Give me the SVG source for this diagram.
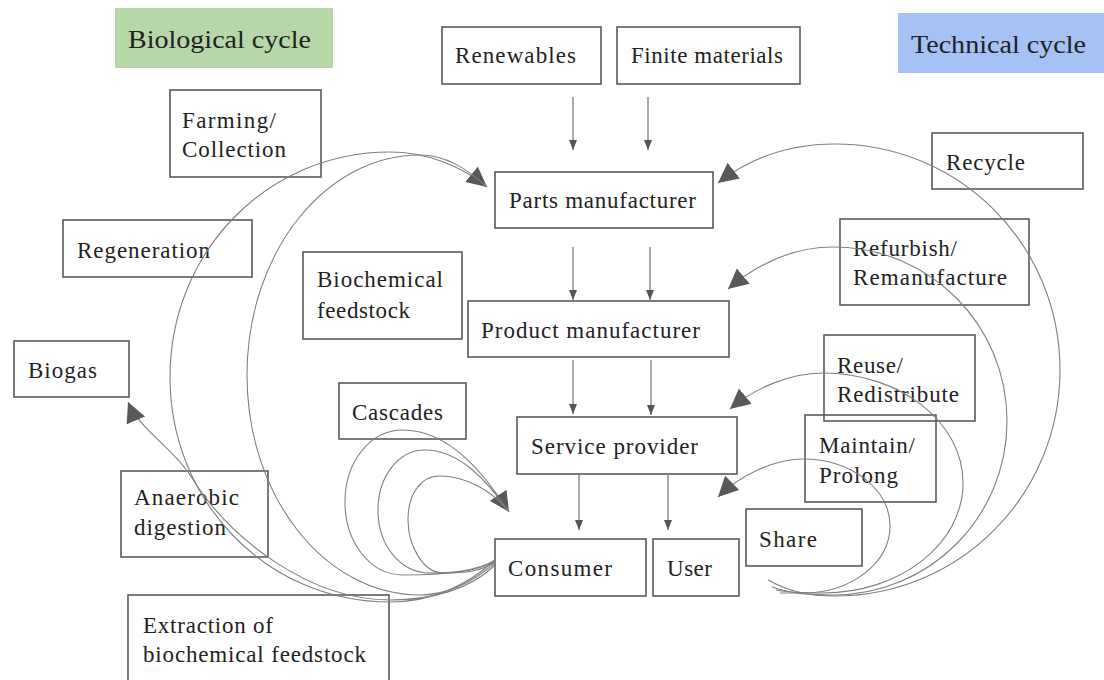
<svg xmlns="http://www.w3.org/2000/svg" width="1104" height="680" viewBox="0 0 1104 680">
<defs>
<style>
.box{fill:none;stroke:#5a5a5a;stroke-width:1.6}
.t{font-family:"Liberation Serif","Times New Roman",serif;font-size:23px;fill:#222}
.h{font-family:"Liberation Serif","Times New Roman",serif;font-size:26px;fill:#222}
.s{fill:none;stroke:#707070;stroke-width:1.2}
.c{fill:none;stroke:#808080;stroke-width:1.1}
</style>
<marker id="sm" markerUnits="userSpaceOnUse" markerWidth="10" markerHeight="10" refX="10" refY="5" orient="auto"><path d="M0,1 L10,5 L0,9 z" fill="#555"/></marker>
<marker id="bg" markerUnits="userSpaceOnUse" markerWidth="22" markerHeight="22" refX="20" refY="10" orient="auto"><path d="M0,0 L20,10 L0,20 z" fill="#595959"/></marker>
</defs>
<rect width="1104" height="680" fill="#fff"/>

<g id="bio-header"><rect x="115" y="8" width="218" height="60" fill="#b6d7a8"/><text class="h" x="128" y="48" textLength="183" lengthAdjust="spacingAndGlyphs">Biological cycle</text></g>
<g id="tech-header"><rect x="898" y="13" width="206" height="60" fill="#a4c2f4"/><text class="h" x="911" y="53" textLength="175" lengthAdjust="spacingAndGlyphs">Technical cycle</text></g>

<g id="renewables"><rect class="box" x="442" y="27" width="159" height="57"/><text class="t" x="455" y="63" textLength="121">Renewables</text></g>
<g id="finite"><rect class="box" x="617" y="27" width="183" height="57"/><text class="t" x="631" y="63" textLength="152">Finite materials</text></g>
<g id="farming"><rect class="box" x="170" y="90" width="151" height="87"/><text class="t" x="182" y="128" textLength="94">Farming/</text><text class="t" x="182" y="157" textLength="104">Collection</text></g>
<g id="regeneration"><rect class="box" x="63" y="220" width="189" height="57"/><text class="t" x="77" y="258" textLength="133">Regeneration</text></g>
<g id="biochemical"><rect class="box" x="303" y="252" width="159" height="87"/><text class="t" x="317" y="287" textLength="126">Biochemical</text><text class="t" x="317" y="318" textLength="93">feedstock</text></g>
<g id="parts"><rect class="box" x="495" y="172" width="218" height="56"/><text class="t" x="509" y="208" textLength="187">Parts manufacturer</text></g>
<g id="recycle"><rect class="box" x="932" y="133" width="151" height="56"/><text class="t" x="946" y="170" textLength="79">Recycle</text></g>
<g id="refurbish"><rect class="box" x="840" y="219" width="189" height="86"/><text class="t" x="853" y="256" textLength="104">Refurbish/</text><text class="t" x="853" y="285" textLength="154">Remanufacture</text></g>
<g id="product"><rect class="box" x="468" y="301" width="261" height="56"/><text class="t" x="481" y="338" textLength="219">Product manufacturer</text></g>
<g id="biogas"><rect class="box" x="14" y="341" width="115" height="56"/><text class="t" x="28" y="378" textLength="69">Biogas</text></g>
<g id="cascades"><rect class="box" x="339" y="383" width="127" height="56"/><text class="t" x="352" y="420" textLength="91">Cascades</text></g>
<g id="reuse"><rect class="box" x="824" y="335" width="151" height="86"/><text class="t" x="837" y="373" textLength="66">Reuse/</text><text class="t" x="837" y="402" textLength="122">Redistribute</text></g>
<g id="service"><rect class="box" x="517" y="417" width="220" height="57"/><text class="t" x="531" y="454" textLength="167">Service provider</text></g>
<g id="maintain"><rect class="box" x="805" y="415" width="131" height="87"/><text class="t" x="819" y="453" textLength="96">Maintain/</text><text class="t" x="819" y="483" textLength="79">Prolong</text></g>
<g id="anaerobic"><rect class="box" x="121" y="471" width="147" height="86"/><text class="t" x="134" y="505" textLength="105">Anaerobic</text><text class="t" x="134" y="535" textLength="92">digestion</text></g>
<g id="share"><rect class="box" x="746" y="509" width="116" height="57"/><text class="t" x="759" y="547" textLength="58">Share</text></g>
<g id="consumer"><rect class="box" x="495" y="539" width="151" height="57"/><text class="t" x="508" y="576" textLength="104">Consumer</text></g>
<g id="user"><rect class="box" x="653" y="539" width="86" height="57"/><text class="t" x="667" y="576" textLength="45">User</text></g>
<g id="extraction"><rect class="box" x="128" y="595" width="261" height="90"/><text class="t" x="143" y="633" textLength="130">Extraction of</text><text class="t" x="143" y="662" textLength="223">biochemical feedstock</text></g>

<g id="connectors">
<line class="s" x1="573" y1="97" x2="573" y2="150" marker-end="url(#sm)"/>
<line class="s" x1="648" y1="97" x2="648" y2="150" marker-end="url(#sm)"/>
<line class="s" x1="573" y1="247" x2="573" y2="300" marker-end="url(#sm)"/>
<line class="s" x1="650" y1="247" x2="650" y2="300" marker-end="url(#sm)"/>
<line class="s" x1="573" y1="360" x2="573" y2="414" marker-end="url(#sm)"/>
<line class="s" x1="651" y1="360" x2="651" y2="415" marker-end="url(#sm)"/>
<line class="s" x1="579" y1="475" x2="579" y2="530" marker-end="url(#sm)"/>
<line class="s" x1="668" y1="475" x2="668" y2="530" marker-end="url(#sm)"/>

<path class="c" d="M495,560 C468,585 432,602 390,602 C266,602 170,501 170,377 C170,253 266,152 390,152 C425,152 460,165 487,187" marker-end="url(#bg)"/>
<path class="c" d="M495,563 C475,580 450,595 420,595 C325,595 247,497 247,375 C247,253 325,155 420,155 C445,155 466,168 487,187"/>
<path class="c" d="M495,565 C470,590 430,600 390,600 C310,600 230,540 190,475 C172,447 140,430 128,402" marker-end="url(#bg)"/>

<path class="c" d="M495,560 C480,570 450,575 403,575 C370,575 345,542 345,502 C345,462 370,430 403,430 C450,430 485,475 509,512" marker-end="url(#bg)"/>
<path class="c" d="M495,561 C480,570 460,573 430,573 C400,573 378,545 378,510 C378,477 398,450 425,450 C460,450 488,482 509,512"/>
<path class="c" d="M495,562 C480,572 465,573 443,573 C423,573 408,545 408,520 C408,495 420,476 440,476 C465,476 492,490 509,512"/>

<path class="c" d="M768,580 C790,592 810,596 835,596 C960,596 1060,495 1060,370 C1060,245 960,144 835,144 C790,144 750,158 718,183" marker-end="url(#bg)"/>
<path class="c" d="M772,587 C792,594 810,595 833,595 C930,595 1007,517 1007,421 C1007,325 930,247 833,247 C795,247 760,262 728,289" marker-end="url(#bg)"/>
<path class="c" d="M776,590 C790,593 805,593 823,593 C900,593 963,544 963,483 C963,422 900,373 823,373 C790,373 755,388 730,409" marker-end="url(#bg)"/>
<path class="c" d="M780,593 C790,593 795,593 803,593 C851,593 890,563 890,526 C890,489 851,459 803,459 C775,459 740,475 718,497" marker-end="url(#bg)"/>
</g>
</svg>
